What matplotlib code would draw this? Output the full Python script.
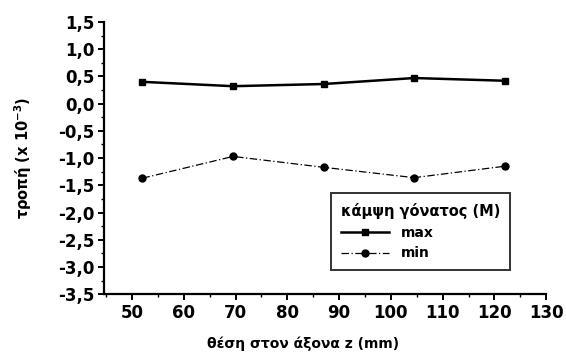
import matplotlib
matplotlib.use("Agg")
import matplotlib.pyplot as plt
from matplotlib.ticker import MultipleLocator, FuncFormatter

plt.rcParams['font.family'] = ['DejaVu Sans']
plt.rcParams['font.weight'] = 'bold'
plt.rcParams['axes.labelweight'] = 'bold'

position_mm = [52, 69.5, 87, 104.5, 122]
strain_max = [0.40, 0.32, 0.36, 0.47, 0.42]
strain_min = [-1.37, -0.97, -1.17, -1.36, -1.15]

fig = plt.figure(figsize=(5.66, 3.54), dpi=100)
ax = fig.add_axes([0.184, 0.169, 0.781, 0.769])

ax.plot(position_mm, strain_max, color='black', lw=1.8, marker='s', ms=5,
        label='max')
ax.plot(position_mm, strain_min, color='black', lw=0.9,
        linestyle=(0, (6, 2, 1, 2)), marker='o', ms=5, label='min')

ax.set_xlim(44.6, 130)
ax.set_ylim(-3.5, 1.5)
ax.set_xticks(range(50, 131, 10))
ax.xaxis.set_minor_locator(MultipleLocator(5))
ax.yaxis.set_major_locator(MultipleLocator(0.5))
ax.yaxis.set_minor_locator(MultipleLocator(0.25))
ax.yaxis.set_major_formatter(
    FuncFormatter(lambda v, p: f"{v:.1f}".replace('.', ',')))

for s in ('top', 'right'):
    ax.spines[s].set_visible(False)
for s in ('left', 'bottom'):
    ax.spines[s].set_linewidth(1.6)

ax.tick_params(which='major', direction='out', length=4, width=1.4,
               labelsize=12, pad=3)
ax.tick_params(which='minor', direction='out', length=2.5, width=1.0)

ax.set_xlabel('θέση στον άξονα z (mm)', fontsize=10)
ax.xaxis.set_label_coords(0.45, -0.155)
ax.set_ylabel('τροπή (x 10$^{-3}$)', fontsize=10.5, labelpad=17)

leg = ax.legend(title='κάμψη γόνατος (M)', loc='lower right',
                bbox_to_anchor=(0.918, 0.088), borderaxespad=0,
                frameon=True, fancybox=False,
                edgecolor='black', fontsize=10, title_fontsize=10.5,
                alignment='left', handlelength=3.5, borderpad=0.7,
                labelspacing=0.5)
leg.get_frame().set_linewidth(1.4)

fig.savefig('out.png', dpi=100)
